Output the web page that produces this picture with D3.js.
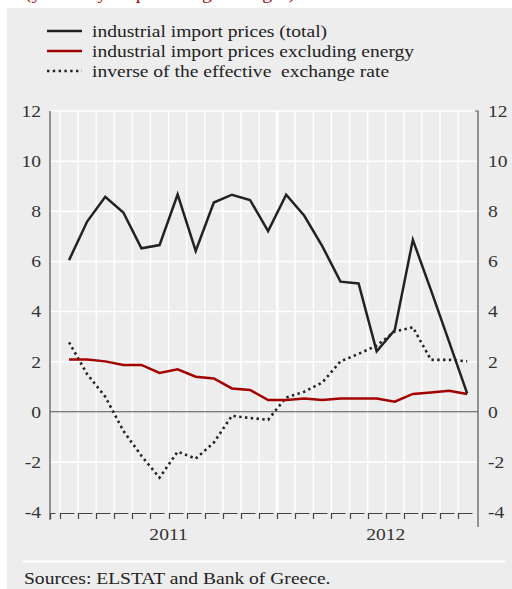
<!DOCTYPE html>
<html>
<head>
<meta charset="utf-8">
<script src="https://cdnjs.cloudflare.com/ajax/libs/d3/7.8.5/d3.min.js"></script>
<style>
  body { margin: 0; background: #fff; }
  svg { display: block; }
  svg text { font-family: "Liberation Serif", "Times New Roman", Tinos, "DejaVu Serif", serif; }
</style>
</head>
<body>
<svg id="chart" width="512" height="589"></svg>
<script>
// monthly, Jan 2011 - Nov 2012
var months = ["2011-01","2011-02","2011-03","2011-04","2011-05","2011-06","2011-07","2011-08",
  "2011-09","2011-10","2011-11","2011-12","2012-01","2012-02","2012-03","2012-04","2012-05",
  "2012-06","2012-07","2012-08","2012-09","2012-10","2012-11"];

var totalPrices = [6.05, 7.59, 8.58, 7.95, 6.52, 6.65, 8.67, 6.42, 8.35, 8.66, 8.45, 7.21,
  8.66, 7.82, 6.6, 5.19, 5.12, 2.41, 3.26, 6.86, 4.85, 2.8, 0.73];

var exEnergy = [2.08, 2.08, 2.01, 1.87, 1.87, 1.55, 1.69, 1.40, 1.33, 0.93, 0.87, 0.47,
  0.47, 0.53, 0.47, 0.53, 0.53, 0.53, 0.40, 0.71, 0.77, 0.84, 0.71];

var exchangeRate = [2.77, 1.5, 0.6, -0.76, -1.76, -2.63, -1.59, -1.87, -1.23, -0.16, -0.25, -0.32,
  0.57, 0.8, 1.17, 2.01, 2.31, 2.64, 3.2, 3.37, 2.07, 2.07, 2.01];

var years = ["2011", "2012"];
var yTicks = [12, 10, 8, 6, 4, 2, 0, -2, -4];

var series = [
  { name: "industrial import prices (total)", values: totalPrices, color: "#222", dash: null },
  { name: "industrial import prices excluding energy", values: exEnergy, color: "#a30000", dash: null },
  { name: "inverse of the effective  exchange rate", values: exchangeRate, color: "#222", dash: "2.4,3.4" }
];

var svg = d3.select("#chart");
var plotLeft = 50, plotRight = 478, plotTop = 111, plotBottom = 512;

// the original type is set a bit wider than Times
function widen(sel) {
  sel.each(function() {
    var w = this.getComputedTextLength();
    this.setAttribute("textLength", (w * 1.15).toFixed(1));
    this.setAttribute("lengthAdjust", "spacingAndGlyphs");
  });
}

// x: month index, month k occupies [k, k+1]
var x = d3.scaleLinear().domain([-0.553, 23.1]).range([plotLeft, plotRight]);
var y = d3.scaleLinear().domain([-4, 12]).range([plotBottom, plotTop]);

// panel background
svg.append("rect").attr("x", 7).attr("y", 8).attr("width", 505).attr("height", 581).attr("fill", "#ededed");

// cut-off subtitle at the very top
svg.append("text").attr("x", 25).attr("y", -1).attr("fill", "#a30000")
  .style("font-size", "17px").text("(year-on-year percentage changes)").call(widen);

// legend
var leg = svg.append("g");
series.forEach(function(s, i) {
  var ly = 31 + i * 20;
  leg.append("line").attr("x1", 47).attr("x2", 82).attr("y1", ly).attr("y2", ly)
    .attr("stroke", s.color).attr("stroke-width", 2.6)
    .attr("stroke-dasharray", s.dash);
  leg.append("text").attr("x", 92).attr("y", ly + 5.5).attr("fill", "#222")
    .style("font-size", "17px").style("white-space", "pre").text(s.name).call(widen);
});

// grid
var grid = svg.append("g");
yTicks.filter(function(v) { return v !== 0 && v !== -4; }).forEach(function(v) {
  grid.append("line").attr("x1", plotLeft).attr("x2", plotRight).attr("y1", y(v)).attr("y2", y(v))
    .attr("stroke", "#fff").attr("stroke-width", 1.5);
});
d3.range(0, 23).forEach(function(k) {
  grid.append("line").attr("x1", x(k)).attr("x2", x(k)).attr("y1", plotTop).attr("y2", plotBottom)
    .attr("stroke", "#fff").attr("stroke-width", k === 12 ? 2.6 : 1.4);
});

// zero line
svg.append("line").attr("x1", plotLeft).attr("x2", plotRight).attr("y1", y(0)).attr("y2", y(0))
  .attr("stroke", "#555").attr("stroke-width", 1);

// axes lines
svg.append("line").attr("x1", plotLeft).attr("x2", plotLeft).attr("y1", plotTop).attr("y2", 520)
  .attr("stroke", "#555").attr("stroke-width", 1.2);
svg.append("path").attr("d", "M" + (plotRight - 3) + "," + plotTop + "H" + plotRight + "V527")
  .attr("fill", "none").attr("stroke", "#555").attr("stroke-width", 1.2);

// bottom hook ticks
var hooks = [-0.553].concat(d3.range(0, 23));
svg.append("g").selectAll("path").data(hooks).join("path")
  .attr("d", function(k) {
    var hx = Math.round(x(k)) + 0.5, w = k < 0 ? 5 : 14;
    return "M" + hx + ",519V" + (plotBottom + 1.5) + "H" + (hx + w);
  })
  .attr("fill", "none").attr("stroke", "#444").attr("stroke-width", 1.2);

// year labels
svg.append("g").selectAll("text").data(years).join("text")
  .attr("x", function(d, i) { return x(i * 12 + 6); })
  .attr("y", 540).attr("text-anchor", "middle").attr("fill", "#333")
  .style("font-size", "17px").text(function(d) { return d; }).call(widen);

// y axes labels
var fmt = function(d) { return d; };
var yl = svg.append("g").attr("transform", "translate(" + plotLeft + ",0)")
  .call(d3.axisLeft(y).tickValues(yTicks).tickSize(0).tickPadding(9).tickFormat(fmt));
var yr = svg.append("g").attr("transform", "translate(" + plotRight + ",0)")
  .call(d3.axisRight(y).tickValues(yTicks).tickSize(0).tickPadding(10).tickFormat(fmt));
[yl, yr].forEach(function(g) {
  g.select(".domain").remove();
  g.attr("font-family", null).attr("font-size", null);
  g.selectAll("text").attr("fill", "#333").style("font-size", "17px").call(widen);
});

// lines
var line = d3.line().x(function(d, i) { return x(i + 0.5); }).y(function(d) { return y(d); });
svg.append("g").selectAll("path").data(series.slice().reverse()).join("path")
  .attr("d", function(s) { return line(s.values); })
  .attr("fill", "none")
  .attr("stroke", function(s) { return s.color; })
  .attr("stroke-width", function(s) { return s.dash ? 2.6 : 2.5; })
  .attr("stroke-dasharray", function(s) { return s.dash; })
  .attr("stroke-linejoin", "miter");

// footer
svg.append("line").attr("x1", 23).attr("x2", 505).attr("y1", 561.5).attr("y2", 561.5)
  .attr("stroke", "#fff").attr("stroke-width", 2);
svg.append("text").attr("x", 24).attr("y", 584).attr("fill", "#222")
  .style("font-size", "17px").text("Sources: ELSTAT and Bank of Greece.").call(widen);
</script>
</body>
</html>
